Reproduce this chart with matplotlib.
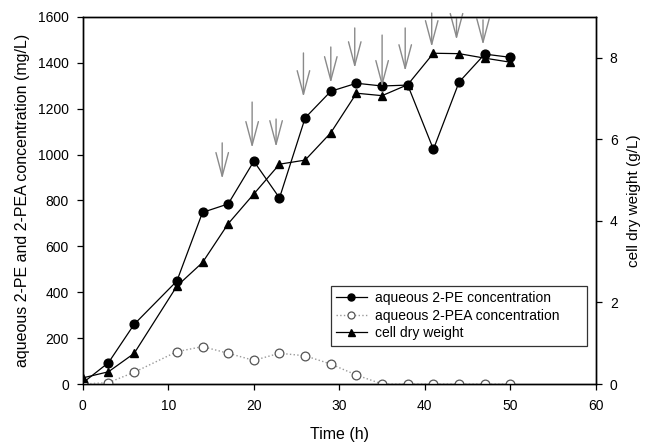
import numpy as np
import matplotlib.pyplot as plt

plt.rcParams['font.family'] = ['Liberation Sans', 'DejaVu Sans']

# data
time = [0, 3, 6, 11, 14, 17, 20, 23, 26, 29, 32, 35, 38, 41, 44, 47, 50]
pe = [5, 93, 260, 449, 748, 785, 971, 811, 1160, 1276, 1311, 1299, 1303, 1023, 1316, 1438, 1424]
pea = [0, 6, 51, 141, 163, 134, 103, 134, 123, 87, 39, 0, 0, 0, 0, 0, 0]
cdw = [0.15, 0.30, 0.75, 2.40, 2.98, 3.93, 4.66, 5.39, 5.49, 6.16, 7.13, 7.07, 7.34, 8.11, 8.10, 7.99, 7.89]

# feeding arrows: time, top, tip (mg/L scale)
arrow_t = [16.3, 19.8, 22.6, 25.8, 29.0, 31.8, 35.0, 37.7, 40.8, 43.7, 46.8]
arrow_top = [1051, 1229, 1155, 1443, 1469, 1552, 1521, 1552, 1617, 1595, 1587]
arrow_tip = [894, 1029, 1033, 1251, 1312, 1377, 1295, 1364, 1469, 1500, 1478]

fig = plt.figure(figsize=(6.47, 4.46), dpi=100)
ax = fig.add_axes([0.128, 0.139, 0.793, 0.823])
ax2 = ax.twinx()

l1, = ax.plot(time, pe, '-', color='black', lw=0.9, marker='o', ms=6.3,
              mfc='black', mec='black', label='aqueous 2-PE concentration')
l2, = ax.plot(time, pea, ':', color='#999999', lw=1.0, marker='o', ms=6.3,
              mfc='white', mec='#555555', mew=0.9, zorder=3,
              label='aqueous 2-PEA concentration')
l3, = ax2.plot(time, cdw, '-', color='black', lw=0.9, marker='^', ms=6.3,
               mfc='black', mec='black', label='cell dry weight')

for t, top, tip in zip(arrow_t, arrow_top, arrow_tip):
    ax.annotate('', xy=(t, tip), xytext=(t, top), annotation_clip=False,
                arrowprops=dict(arrowstyle='->,head_length=1.7,head_width=0.45',
                                color='#8a8a8a', lw=1.0, shrinkA=0, shrinkB=0))

ax.set_xlim(0, 60)
ax.set_ylim(0, 1600)
ax2.set_ylim(0, 9)
ax.set_xticks(np.arange(0, 61, 10))
ax.set_yticks(np.arange(0, 1601, 200))
ax2.set_yticks([0, 2, 4, 6, 8])

ax.set_xlabel('Time (h)', fontsize=11.5, labelpad=10)
ax.set_ylabel('aqueous 2-PE and 2-PEA concentration (mg/L)', fontsize=11.5, labelpad=6)
ax2.set_ylabel('cell dry weight (g/L)', fontsize=11, labelpad=7)

for a in (ax, ax2):
    a.tick_params(labelsize=10, direction='out', length=4, width=0.9, pad=6)
    for s in a.spines.values():
        s.set_linewidth(1.0)
ax.tick_params(axis='x', pad=7)

leg = ax.legend(handles=[l1, l2, l3], loc='lower left',
                bbox_to_anchor=(0.483, 0.104, 0.499, 0.202), mode='expand',
                fontsize=10, frameon=True, fancybox=False, edgecolor='black',
                handlelength=2.2, handletextpad=0.6, labelspacing=0.25,
                borderaxespad=0, markerscale=0.8)
leg.get_frame().set_linewidth(0.9)
leg.set_zorder(5)

fig.savefig('out.png', dpi=100)
